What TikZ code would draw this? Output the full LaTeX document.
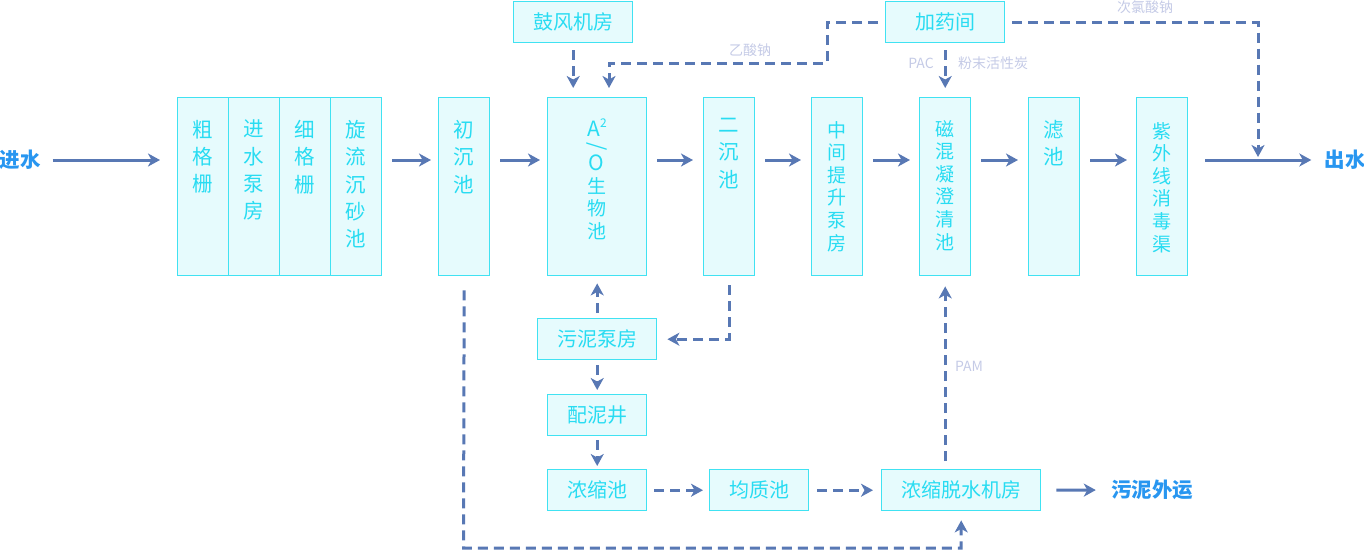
\documentclass[tikz,border=0pt]{standalone}
\usepackage{fontspec}
\setmainfont{Noto Sans CJK SC}
\usetikzlibrary{arrows.meta}
\definecolor{boxd}{RGB}{64,226,242}
\definecolor{boxf}{RGB}{230,251,253}
\definecolor{txt}{RGB}{40,220,242}
\definecolor{arr}{RGB}{88,120,180}
\definecolor{lab}{RGB}{196,202,230}
\definecolor{blu}{RGB}{40,150,240}
\begin{document}
\begin{tikzpicture}[x=1pt,y=-1pt,
 box/.style={draw=boxd, fill=boxf, line width=1.4pt, inner sep=0pt, anchor=north west},
 tall/.style={box, minimum width=51pt, minimum height=178pt},
 sbox/.style={box, minimum height=41pt, text=txt, font=\fontsize{20pt}{22pt}\selectfont},
 vt/.style={text=txt, align=center, anchor=north, inner sep=0pt, font=\fontsize{20.5pt}{27.3pt}\selectfont},
 vs/.style={vt, font=\fontsize{19pt}{22.6pt}\selectfont},
 lab/.style={text=lab, inner sep=0pt, font=\fontsize{14pt}{16pt}\selectfont},
 big/.style={text=blu, inner sep=0pt, font=\fontsize{20.5pt}{22pt}\selectfont\bfseries},
 flow/.style={draw=arr, line width=3pt, -{Stealth[length=12pt,width=13pt,inset=3.5pt]}},
 dflow/.style={flow, dash pattern=on 10pt off 6pt}]
\useasboundingbox (0,0) rectangle (1364,550);
% tall boxes
\node[tall] (g1) at (177,97) {};
\node[tall] (g2) at (228,97) {};
\node[tall] (g3) at (279,97) {};
\node[tall] (g4) at (330,97) {};
\node[tall] (cc) at (438,97) {};
\node[box, minimum width=99pt, minimum height=178pt] (a2o) at (547,97) {};
\node[tall] (ec) at (703,97) {};
\node[tall] (zj) at (811,97) {};
\node[tall] (ch) at (919,97) {};
\node[tall] (lc) at (1028,97) {};
\node[tall] (zw) at (1136,97) {};
% vertical texts
\node[vt] (t1) at (202.5,120) {粗\\格\\栅};
\node[vt] (t2) at (253.5,120) {进\\水\\泵\\房};
\node[vt] (t3) at (304.5,120) {细\\格\\栅};
\node[vt] (t4) at (355.5,120) {旋\\流\\沉\\砂\\池};
\node[vt] (t5) at (463.5,120) {初\\沉\\池};
\node[text=txt, inner sep=0pt, font=\fontsize{21pt}{22pt}\selectfont] (t6a) at (597,128) {A\raisebox{0.42em}{\fontsize{12pt}{12pt}\selectfont 2}};
\node[text=txt, inner sep=0pt, rotate=-90, font=\fontsize{21pt}{22pt}\selectfont] (t6b) at (596.5,147) {/};
\node[text=txt, inner sep=0pt, font=\fontsize{21pt}{22pt}\selectfont] (t6c) at (596.5,163) {O};
\node[vs] (t6d) at (596.5,177) {生\\物\\池};
\node[vt] (t7) at (728.5,118) {二\\沉\\池};
\node[vs] (t8) at (836.5,121) {中\\间\\提\\升\\泵\\房};
\node[vs] (t9) at (944.5,120) {磁\\混\\凝\\澄\\清\\池};
\node[vt] (t10) at (1053.5,120) {滤\\池};
\node[vs] (t11) at (1161.5,122) {紫\\外\\线\\消\\毒\\渠};
% small boxes
\node[sbox, minimum width=119pt] (gf) at (513,1) {鼓风机房};
\node[sbox, minimum width=119pt] (jy) at (885,1) {加药间};
\node[sbox, minimum width=119pt] (wnbf) at (537,318) {污泥泵房};
\node[sbox, minimum width=99pt] (pnj) at (547,394) {配泥井};
\node[sbox, minimum width=99pt] (nsc) at (547,469) {浓缩池};
\node[sbox, minimum width=99pt] (jzc) at (709,469) {均质池};
\node[sbox, minimum width=159pt] (tsj) at (881,469) {浓缩脱水机房};
% end labels
\node[big] (jin) at (20,160) {进水};
\node[big] (outw) at (1345,160) {出水};
\node[big] (wnwy) at (1152,490) {污泥外运};
% chemical labels
\node[lab] (l1) at (750,50) {乙酸钠};
\node[lab] (l2) at (921,63) {PAC};
\node[lab] (l3) at (993,63) {粉末活性炭};
\node[lab] (l4) at (1145,7) {次氯酸钠};
\node[lab] (l5) at (969,366) {PAM};
% main flow
\coordinate (yl) at (0,160);
\draw[flow, shorten <=12pt, shorten >=17pt] (jin.east) -- (jin.east -| g1.west);
\draw[flow, shorten <=10pt, shorten >=7pt] (g4.east |- yl) -- (cc.west |- yl);
\draw[flow, shorten <=10pt, shorten >=7pt] (cc.east |- yl) -- (a2o.west |- yl);
\draw[flow, shorten <=10pt, shorten >=10pt] (a2o.east |- yl) -- (ec.west |- yl);
\draw[flow, shorten <=10pt, shorten >=10pt] (ec.east |- yl) -- (zj.west |- yl);
\draw[flow, shorten <=10pt, shorten >=9pt] (zj.east |- yl) -- (ch.west |- yl);
\draw[flow, shorten <=10pt, shorten >=10pt] (ch.east |- yl) -- (lc.west |- yl);
\draw[flow, shorten <=10pt, shorten >=9pt] (lc.east |- yl) -- (zw.west |- yl);
\draw[flow, shorten <=17pt, shorten >=13pt] (zw.east |- yl) -- (outw.west);
% chemicals
\coordinate (k1) at (827,63);
\coordinate (k2) at (609,63);
\coordinate (k3) at (1258,160);
\draw[dflow, shorten <=7pt, shorten >=9pt] (gf.south) -- (gf.south |- a2o.north);
\draw[dflow, shorten <=7pt, shorten >=9pt] (jy.west) -| (k1) -- (k2) -- (k2 |- a2o.north);
\draw[dflow, shorten <=7pt, shorten >=9pt] (jy.south) -- (jy.south |- ch.north);
\draw[dflow, shorten <=7pt, shorten >=3pt] (jy.east) -| (k3);
% sludge
\coordinate (k4) at (463.5,548);
\draw[dflow, shorten <=5pt, shorten >=7pt] (wnbf.north) -- (wnbf.north |- a2o.south);
\draw[dflow, shorten <=9pt, shorten >=10pt] (ec.south) |- (wnbf.east);
\draw[dflow, shorten <=5pt, shorten >=4pt] (wnbf.south) -- (pnj.north);
\draw[dflow, shorten <=4pt, shorten >=3pt] (pnj.south) -- (nsc.north);
\draw[dflow, shorten <=7pt, shorten >=6pt] (nsc.east) -- (jzc.west);
\draw[dflow, shorten <=8pt, shorten >=8pt] (jzc.east) -- (tsj.west);
\draw[dflow, shorten <=8pt, shorten >=10pt] (ch.south |- tsj.north) -- (ch.south);
\draw[flow, shorten <=15pt, shorten >=15pt] (tsj.east) -- (wnwy.west);
\draw[dflow, shorten <=14pt, shorten >=9pt] (cc.south) -- (k4) -| (tsj.south);
\end{tikzpicture}
\end{document}
